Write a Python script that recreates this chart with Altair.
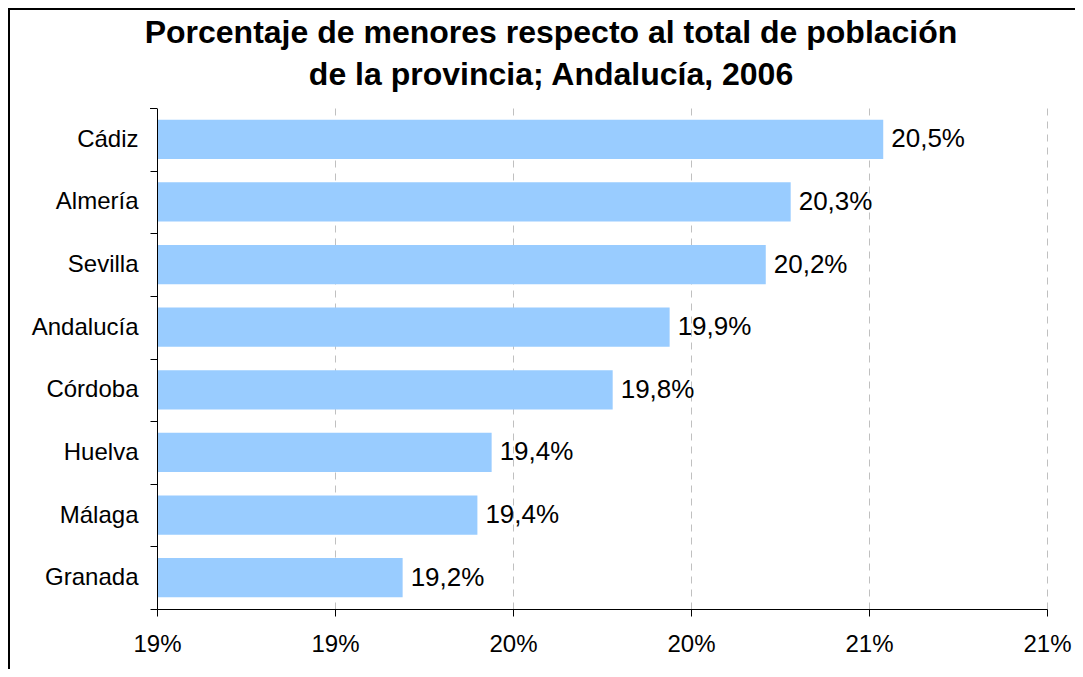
import altair as alt
import pandas as pd

# ---- data ----
provincias = ["Cádiz", "Almería", "Sevilla", "Andalucía", "Córdoba", "Huelva", "Málaga", "Granada"]
porcentajes = [20.54, 20.28, 20.21, 19.94, 19.78, 19.44, 19.40, 19.19]
x_ticks = [18.5, 19.0, 19.5, 20.0, 20.5, 21.0]
titulo = ["Porcentaje de menores respecto al total de población", "de la provincia; Andalucía, 2006"]

FONT = "Liberation Sans"
W, H = 890, 501
PAD_L, PAD_T, PAD_R, PAD_B = 149, 100, 28, 60

df = pd.DataFrame({
    "provincia": provincias,
    "valor": porcentajes,
    "etiqueta": [f"{v:.1f}".replace(".", ",") + "%" for v in porcentajes],
})

step = H / len(provincias)

xscale = alt.Scale(domain=[x_ticks[0], x_ticks[-1]], nice=False, zero=False)
yscale = alt.Scale(domain=provincias, paddingInner=0.375, paddingOuter=0.1875)

base = alt.Chart(df)

bars = base.mark_bar(color="#99CCFF").encode(
    x=alt.X("valor:Q", scale=xscale, title=None,
            axis=alt.Axis(values=x_ticks, labelExpr="round(datum.value) + '%'",
                          grid=True, gridDash=[7, 6], gridColor="#C0C0C0", gridWidth=1,
                          domainColor="#000000", tickColor="#000000", tickSize=7,
                          labelFontSize=24, labelFont=FONT, labelColor="#000000",
                          labelPadding=16, labelFlush=False, labelOverlap=False, zindex=0)),
    x2=alt.X2(datum=x_ticks[0]),
    y=alt.Y("provincia:N", scale=yscale, sort=provincias, title=None,
            axis=alt.Axis(grid=False, domainColor="#000000", tickColor="#000000", tickSize=7,
                          tickOffset=step / 2, labelOffset=-step / 2,
                          labelFontSize=24, labelFont=FONT, labelColor="#000000",
                          labelPadding=12, zindex=1)),
)

labels = base.mark_text(align="left", baseline="middle", dx=8, fontSize=26, font=FONT, color="#000000").encode(
    x=alt.X("valor:Q", scale=xscale),
    y=alt.Y("provincia:N", scale=yscale, sort=provincias),
    text="etiqueta:N",
)

top_tick = alt.Chart(pd.DataFrame({"k": [0]})).mark_rule(color="#000000", strokeWidth=1).encode(
    x=alt.value(-7), x2=alt.value(0), y=alt.value(0.5)
)

title_df = pd.DataFrame({"linea": titulo, "pos": [-65, -23]})
title_marks = alt.Chart(title_df).mark_text(
    align="center", baseline="alphabetic", fontSize=32, fontWeight="bold", font=FONT, color="#000000"
).encode(
    x=alt.value(394),
    y=alt.Y("pos:Q", scale=None),
    text="linea:N",
)

frame = alt.Chart(pd.DataFrame({"k": [0]})).mark_rect(
    fillOpacity=0, stroke="#000000", strokeWidth=2
).encode(
    x=alt.value(-PAD_L + 1), x2=alt.value(W + PAD_R + 20),
    y=alt.value(-PAD_T + 1), y2=alt.value(H + PAD_B + 20),
)

chart = alt.layer(bars, labels, top_tick, title_marks, frame).properties(
    width=W, height=H,
    autosize=alt.AutoSizeParams(type="none"),
    padding={"left": PAD_L, "top": PAD_T, "right": PAD_R, "bottom": PAD_B},
    background="#FFFFFF",
).configure_view(stroke=None)

chart.save("out.html", embed_options={"renderer": "svg", "actions": False})
